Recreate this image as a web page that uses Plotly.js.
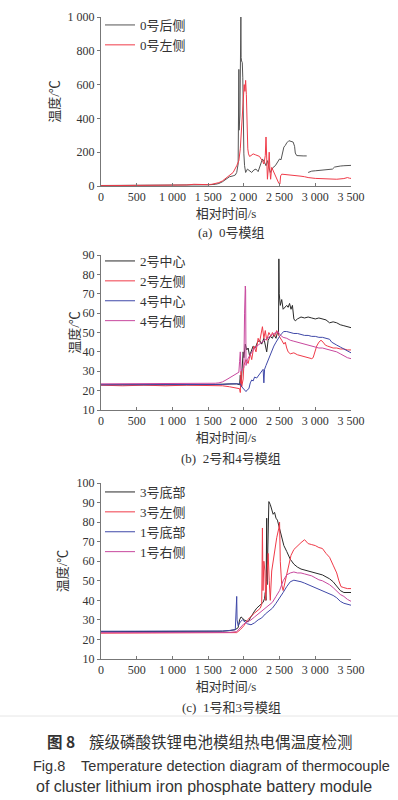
<!DOCTYPE html>
<html><head><meta charset="utf-8">
<script src="https://cdn.plot.ly/plotly-3.0.1.min.js"></script>
<style>html,body{margin:0;padding:0;background:#fff}#chart{width:398px;height:800px}</style>
</head><body><div id="chart"></div>
<script>
// ---------- data (a) 0号模组 ----------
const aBackT = [0,300,600,900,1200,1400,1500,1600,1650,1700,1750,1800,1850,1880,1900,1920,1930,1933,1945,1958,1962,1968,1978,1985,1990,1995,2000,2010,2025,2050,2080,2110,2140,2170,2200,2230,2260,2290,2310,2330,2350,2370,2390,2410,2440,2470,2500,2520,2540,2560,2580,2600,2630,2660,2690,2710,2720,2740,2780,2830,2880,null,2900,2950,3000,3050,3100,3150,3200,3240,3270,3300,3350,3400,3450,3500];
const aBackV = [3,3,3,4,5,6,7,10,15,25,40,55,60,65,80,130,690,330,420,1000,760,740,730,640,450,300,190,120,80,100,90,80,95,100,85,120,160,140,120,150,110,80,95,110,120,140,160,155,200,230,240,255,268,262,260,235,195,180,178,178,178,null,80,88,90,92,90,95,95,100,112,115,118,120,122,122];
const aLeftT = [0,500,1000,1200,1300,1400,1500,1550,1600,1650,1700,1750,1800,1850,1900,1930,1950,1970,1990,2005,2015,2025,2035,2040,2048,2055,2065,2080,2100,2130,2160,2190,2220,2240,2260,2280,2300,2310,2320,2330,2345,2355,2365,2375,2390,2410,2430,2450,2470,2490,2505,2515,2530,2600,2700,2800,2850,2900,3000,3100,3200,3300,3400,3450,3480,3500];
const aLeftV = [2,2,4,6,10,8,8,10,15,20,30,45,60,80,120,150,220,350,520,600,560,625,540,430,300,220,190,175,180,190,185,180,175,160,150,130,180,290,120,40,120,200,90,40,110,90,70,50,30,15,12,60,70,68,62,58,55,50,45,42,40,40,44,50,46,45];

// ---------- data (b) 2号和4号模组 ----------
const b2CenterT = [0,200,400,600,800,1000,1200,1400,1600,1800,1900,1940,1950,1960,1975,1990,2000,2020,2040,2060,2080,2100,2130,2160,2190,2220,2250,2280,2300,2320,2340,2370,2400,2420,2450,2470,2485,2490,2495,2510,2530,2550,2580,2600,2620,2640,2660,2680,2700,2720,2750,2800,2850,2900,2950,3000,3050,3100,3150,3200,3250,3300,3350,3400,3450,3500];
const b2CenterV = [23,23,22.8,23,22.8,23,23,23,23.2,23.5,23.5,23,28,22,35,40,37,44,41,42,38,40,43,42,45,46,44,47,43,40,46,48,47,49,47,50,49,88,70,64,67,62,63,64,63,65,62,64,57,56,57,58,57.5,58,57.5,57,57.5,57,56.5,55,55.5,55,54,53.5,53,52.5];
const b2LeftT = [0,300,600,900,1200,1500,1600,1700,1800,1900,1940,1950,1960,1970,1990,2000,2030,2060,2090,2110,2140,2170,2200,2220,2240,2260,2280,2300,2320,2350,2380,2400,2430,2460,2480,2500,2530,2560,2580,2600,2620,2650,2700,2750,2800,2850,2900,2950,2970,2990,3020,3050,3080,3110,3140,3170,3200,3250,3300,3350,3400,3450,3500];
const b2LeftV = [22.8,22.5,22.8,22.5,22.8,22.8,22.5,22.5,22,21.5,21,19,30,22,26,33,36,34,39,36,43,40,47,45,50,53,47,51,46,50,48,50,48,51,49,48,46,44,45,42,40,39,39.5,38.5,38,37.5,37,36.5,37,40,43,45,46,45,43.5,43,42.5,42,42,41.5,41.5,41,41];
const b4CenterT = [0,300,600,900,1200,1500,1700,1800,1900,1950,1970,1990,2010,2030,2050,2070,2090,2110,2130,2150,2180,2200,2230,2250,2270,2280,2290,2310,2330,2360,2390,2420,2450,2480,2500,2530,2560,2600,2650,2700,2750,2800,2850,2900,2950,3000,3050,3100,3150,3200,3230,3260,3300,3350,3400,3450,3500];
const b4CenterV = [23,23,23,23,23,23,23.2,23.5,23.5,23.5,22,21,20,19.5,20.5,21,24,25.5,25,27,26.5,27.5,29,30,31,24,31,33,35,37,40,43,45,47,48,49.5,50.5,50.5,50,49.5,49.5,49,48.5,48.5,48,48,47.5,47.5,47,46.5,45,44.5,43.5,42.5,41.5,40.5,39.5];
const b4RightT = [0,300,600,900,1200,1500,1600,1650,1700,1750,1800,1850,1900,1930,1940,1950,1960,1980,2000,2010,2020,2025,2030,2050,2080,2110,2150,2200,2250,2300,2350,2400,2450,2480,2500,2550,2600,2650,2700,2750,2800,2850,2900,2950,3000,3050,3100,3150,3200,3250,3300,3350,3400,3450,3500];
const b4RightV = [23.5,23.5,23.5,23.5,23.5,23.5,23.8,24,24.5,25.5,26.5,27.5,28.5,29.5,35,40,30,31,32,60,74,72,33,36,38,40,42,43.5,45,46.5,47.5,49,50,50.5,49,47.5,47,46,45.5,45,44.5,44,43.5,43,42.5,42,42,41.5,41,40.5,40,39,38,37,36.5];

// ---------- data (c) 1号和3号模组 ----------
const c3BottomT = [0,300,600,900,1200,1500,1700,1800,1880,1920,1940,1960,1980,2000,2030,2060,2090,2120,2150,2180,2210,2240,2270,2290,2300,2310,2320,2325,2340,2350,2370,2390,2410,2430,2450,2470,2490,2510,2530,2560,2600,2650,2700,2750,2800,2850,2900,2950,3000,3050,3100,3150,3200,3250,3300,3350,3400,3450,3500];
const c3BottomV = [24,24,24,24,24,24,24.2,24.5,25,26,30,31.5,31,30,29.5,29,31,33,34.5,36,37,38,39,41,44,40,82,48,88,90.5,89,87,84,85,82,81,78,75,72,68,65,61,58.5,57,56,55.5,55,54.5,54,53.5,53,52,51,49.5,47.5,45,44,44,44];
const c3LeftT = [0,300,600,900,1200,1500,1800,1900,1950,2000,2050,2100,2150,2200,2230,2250,2260,2268,2280,2295,2305,2320,2340,2355,2370,2390,2410,2430,2460,2490,2500,2510,2530,2550,2580,2620,2660,2700,2750,2800,2850,2900,2950,3000,3050,3100,3150,3200,3250,3300,3330,3360,3400,3450,3500];
const c3LeftV = [23.2,23.2,23.2,23.2,23.2,23.2,23.3,23.5,25,27,30,32,33.5,35,36,38,77,45,60,55,40,50,64,50,40,55,60,65,72,77,80,60,48,45,50,58,63,66,68,69.5,71,69,68.5,68,67,66.5,64,62,58,54,50,47,46.5,46,46];
const c1BottomT = [0,300,600,900,1200,1500,1700,1800,1880,1900,1905,1920,1950,1980,2000,2050,2100,2150,2200,2250,2300,2350,2400,2450,2500,2550,2600,2650,2700,2750,2800,2850,2900,2950,3000,3050,3100,3150,3200,3250,3300,3350,3400,3450,3500];
const c1BottomV = [24.2,24.2,24.2,24.2,24.2,24.2,24.3,24.6,25,42,30,27,29,30,29.5,28,27.5,28.5,30,31,33,34.5,36,38.5,41,44,47,49.5,50.3,50,49.5,48.8,48,47.3,46.5,45.8,45,44.3,43.5,42.5,41.3,39.5,38.5,37.8,37.5];
const c1RightT = [0,300,600,900,1200,1500,1800,1900,1950,2000,2050,2100,2150,2200,2250,2300,2350,2400,2450,2500,2550,2600,2650,2700,2750,2800,2850,2900,2950,3000,3050,3100,3150,3200,3250,3300,3350,3400,3450,3500];
const c1RightV = [23.5,23.5,23.5,23.5,23.5,23.5,23.6,24,26,28,29,30,31.5,33,34.5,36,37.5,39,42,45,50,53,54,54.5,54,54,53.5,53,52.5,51.5,50.5,50,49,48,46.5,45,43,42,40.5,39.5];

const xTickVals = [0,500,1000,1500,2000,2500,3000,3500];
const xTickText = ['0','500','1 000','1 500','2 000','2 500','3 000','3 500'];
const aTickVals = [0,200,400,600,800,1000];
const aTickText = ['0','200','400','600','800','1 000'];
const bTickVals = [10,20,30,40,50,60,70,80,90];
const cTickVals = [10,20,30,40,50,60,70,80,90,100];

const BLACK = '#2a2a2a', RED = '#f03a48', BLUE = '#3f48a8', MAG = '#c8489e';
const serif = '"Liberation Serif", "Noto Sans CJK SC", serif';
const cjk = '"Liberation Serif", "Noto Sans CJK SC", serif';

function tr(x, y, name, color, xa, ya, leg) {
  return {x: x, y: y, name: name, type: 'scatter', mode: 'lines', connectgaps: false,
    line: {color: color, width: 1}, xaxis: xa, yaxis: ya, legend: leg};
}
const data = [
  tr(aBackT, aBackV, '0号后侧', '#555', 'x', 'y', 'legend'),
  tr(aLeftT, aLeftV, '0号左侧', RED, 'x', 'y', 'legend'),
  tr(b2CenterT, b2CenterV, '2号中心', BLACK, 'x2', 'y2', 'legend2'),
  tr(b2LeftT, b2LeftV, '2号左侧', RED, 'x2', 'y2', 'legend2'),
  tr(b4CenterT, b4CenterV, '4号中心', BLUE, 'x2', 'y2', 'legend2'),
  tr(b4RightT, b4RightV, '4号右侧', MAG, 'x2', 'y2', 'legend2'),
  tr(c3BottomT, c3BottomV, '3号底部', BLACK, 'x3', 'y3', 'legend3'),
  tr(c3LeftT, c3LeftV, '3号左侧', RED, 'x3', 'y3', 'legend3'),
  tr(c1BottomT, c1BottomV, '1号底部', BLUE, 'x3', 'y3', 'legend3'),
  tr(c1RightT, c1RightV, '1号右侧', MAG, 'x3', 'y3', 'legend3')
];

const H = 800, W = 398;
const px = v => v / W, py = v => 1 - v / H;
const xdom = [px(101), px(351)];
function xax(anchor) {
  return {domain: xdom, anchor: anchor, range: [0, 3500], tickvals: xTickVals, ticktext: xTickText,
    showline: true, linecolor: '#777', linewidth: 1, ticks: 'inside', ticklen: 3, tickcolor: '#777',
    showgrid: false, zeroline: false, tickfont: {family: serif, size: 12, color: '#333'},
    title: {text: '相对时间/s', font: {family: cjk, size: 13, color: '#333'}, standoff: 5}};
}
function yax(anchor, dom, range, tv, tt, so) {
  const o = {domain: dom, anchor: anchor, range: range, tickvals: tv,
    showline: true, linecolor: '#777', linewidth: 1, ticks: 'outside', ticklen: 3, tickcolor: '#777',
    showgrid: false, zeroline: false, tickfont: {family: serif, size: 12, color: '#333'},
    title: {text: '温度/℃', font: {family: cjk, size: 13, color: '#333'}, standoff: so}};
  if (tt) o.ticktext = tt;
  return o;
}
function leg(x, y) {
  return {x: px(x), y: py(y), xanchor: 'left', yanchor: 'top', bgcolor: 'rgba(0,0,0,0)',
    font: {family: cjk, size: 13, color: '#333'}, borderwidth: 0, tracegroupgap: 0};
}
function ann(text, x, y, size, fam, extra) {
  return Object.assign({text: text, x: px(x), y: py(y), xref: 'paper', yref: 'paper', showarrow: false,
    xanchor: 'center', yanchor: 'middle', font: {family: fam, size: size, color: '#333'}}, extra || {});
}
const sans = '"Liberation Sans", "Noto Sans CJK SC", sans-serif';
const layout = {
  width: W, height: H, margin: {l: 0, r: 0, t: 0, b: 0}, paper_bgcolor: '#fff', plot_bgcolor: 'rgba(0,0,0,0)',
  showlegend: true,
  xaxis: xax('y'), yaxis: yax('x', [py(186), py(17)], [0, 1000], aTickVals, aTickText, 5),
  xaxis2: xax('y2'), yaxis2: yax('x2', [py(410), py(255)], [10, 90], bTickVals, null, 0),
  xaxis3: xax('y3'), yaxis3: yax('x3', [py(659), py(483)], [10, 100], cTickVals, null, 6),
  legend: leg(100, 10), legend2: leg(100, 246), legend3: leg(100, 477),
  annotations: [
    ann('(a)  0号模组', 231, 232, 13, cjk),
    ann('(b)  2号和4号模组', 231, 458, 13, cjk),
    ann('(c)  1号和3号模组', 231, 707, 13, cjk),
    ann('<b>图 8</b>    簇级磷酸铁锂电池模组热电偶温度检测', 200, 741, 15.5, '"Noto Sans CJK SC", sans-serif'),
    ann('Fig.8    Temperature detection diagram of thermocouple', 211, 766, 14.5, sans),
    ann('of cluster lithium iron phosphate battery module', 204, 786, 16, sans)
  ],
  shapes: [{type: 'line', xref: 'paper', yref: 'paper', x0: 0, x1: 1, y0: py(716), y1: py(716),
    line: {color: '#e6e6e6', width: 1}}]
};
Plotly.newPlot('chart', data, layout, {displayModeBar: false, staticPlot: true});
</script></body></html>
